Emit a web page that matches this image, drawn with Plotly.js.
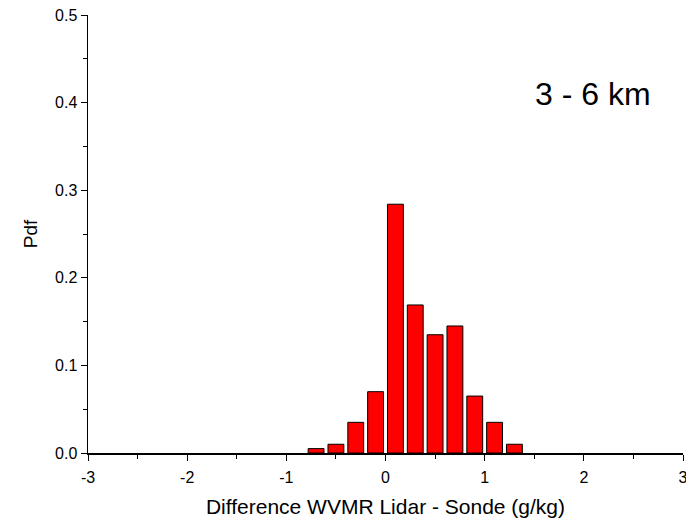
<!DOCTYPE html>
<html>
<head>
<meta charset="utf-8">
<script src="https://cdn.plot.ly/plotly-3.0.1.min.js"></script>
<style>html,body{margin:0;padding:0;background:#fff;}#chart{width:686px;height:523px;}</style>
</head>
<body>
<div id="chart"></div>
<script>
const binCenters = [-0.7, -0.5, -0.3, -0.1, 0.1, 0.3, 0.5, 0.7, 0.9, 1.1, 1.3];
const pdfValues = [0.005, 0.010, 0.035, 0.070, 0.284, 0.169, 0.135, 0.145, 0.065, 0.035, 0.010];
const xTickVals = [-3, -2, -1, 0, 1, 2, 3];
const xTickText = ['-3', '-2', '-1', '0', '1', '2', '3'];
const yTickVals = [0, 0.1, 0.2, 0.3, 0.4, 0.5];
const yTickText = ['0.0', '0.1', '0.2', '0.3', '0.4', '0.5'];

const trace = {
  type: 'bar',
  x: binCenters,
  y: pdfValues,
  width: 0.16,
  marker: {color: '#ff0000', line: {color: '#000000', width: 1}},
  hoverinfo: 'x+y'
};

const fam = 'Arial, "Liberation Sans", sans-serif';

const layout = {
  width: 686, height: 523,
  margin: {l: 88, r: 3, t: 15, b: 70},
  paper_bgcolor: '#fff', plot_bgcolor: '#fff',
  showlegend: false,
  font: {family: fam, size: 16, color: '#000'},
  xaxis: {
    range: [-3, 3],
    tickmode: 'array', tickvals: xTickVals, ticktext: xTickText,
    ticks: 'outside', ticklen: 6, tickwidth: 1, tickcolor: '#000',
    minor: {dtick: 0.5, tick0: 0, ticks: 'outside', ticklen: 4, tickcolor: '#000'},
    showline: true, linecolor: '#000', linewidth: 1.5,
    showgrid: false, zeroline: false,
    ticklabeloverflow: 'allow',
    ticklabelstandoff: 3,
    tickfont: {family: fam, size: 16, color: '#000'},
    title: {text: 'Difference WVMR Lidar - Sonde (g/kg)', font: {family: fam, size: 21, color: '#000'}, standoff: 14}
  },
  yaxis: {
    range: [0, 0.5],
    tickmode: 'array', tickvals: yTickVals, ticktext: yTickText,
    ticks: 'outside', ticklen: 6, tickwidth: 1, tickcolor: '#000',
    minor: {dtick: 0.05, tick0: 0, ticks: 'outside', ticklen: 4, tickcolor: '#000'},
    showline: true, linecolor: '#000', linewidth: 1.5,
    showgrid: false, zeroline: false,
    ticklabeloverflow: 'allow',
    tickfont: {family: fam, size: 16, color: '#000'},
    title: {text: 'Pdf', font: {family: fam, size: 19, color: '#000'}, standoff: 12}
  },
  annotations: [{
    text: '3 - 6 km', xref: 'x', yref: 'y', x: 2.09, y: 0.41,
    showarrow: false, font: {family: fam, size: 32, color: '#000'}
  }]
};

Plotly.newPlot('chart', [trace], layout, {displayModeBar: false, staticPlot: true});
</script>
</body>
</html>
